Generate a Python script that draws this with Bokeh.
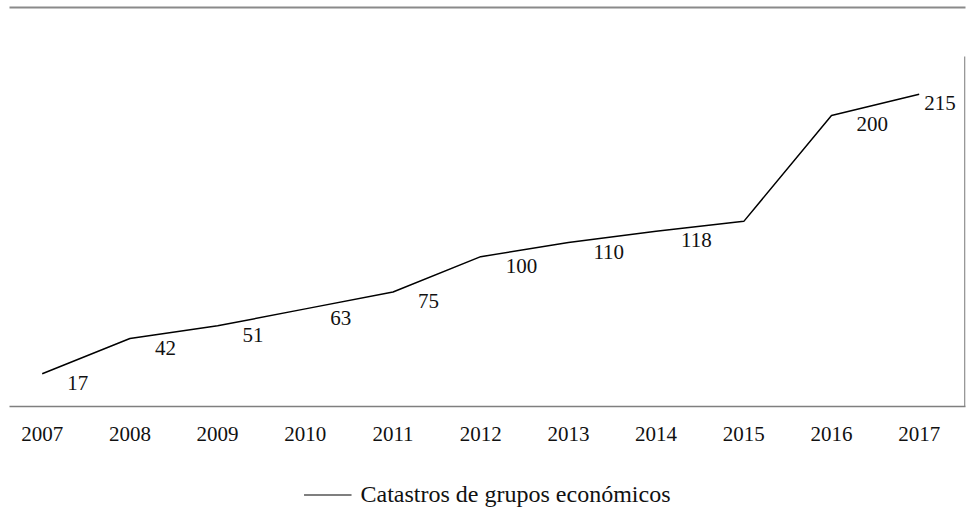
from bokeh.plotting import figure
from bokeh.layouts import column
from bokeh.models import (Range1d, FixedTicker, LinearAxis, Legend, LegendItem,
                          BoxAnnotation, ColumnDataSource)
from bokeh.core.properties import value
from bokeh.embed import file_html
from bokeh.resources import INLINE

# ---- data ----
years = [2007, 2008, 2009, 2010, 2011, 2012, 2013, 2014, 2015, 2016, 2017]
values = [17, 42, 51, 63, 75, 100, 110, 118, 125, 200, 215]
point_labels = ["17", "42", "51", "63", "75", "100", "110", "118", "", "200", "215"]
tick_labels = ["2007", "2008", "2009", "2010", "2011", "2012", "2013", "2014",
               "2015", "2016", "2017"]
series_name = "Catastros de grupos económicos"

# ---- layout / style ----
FONT = "Liberation Serif"
W = 979
H1, H2 = 470, 48
X0, X1 = 2006.627, 2017.528
Y0, Y1 = -6.16, 276.5
PX = (X1 - X0) / 956.0          # data units per screen pixel (x)
label_dx = [25] * (len(years) - 1) + [5]
label_dy = [9] * len(years)

p = figure(width=W, height=H1, output_backend="svg", toolbar_location=None,
           x_range=Range1d(X0, X1), y_range=Range1d(Y0, Y1),
           y_axis_location=None,
           min_border_left=9, min_border_right=14, min_border_top=7,
           min_border_bottom=H1 - 406)
p.outline_line_color = None
p.xgrid.visible = False
p.ygrid.visible = False
p.background_fill_color = "white"
p.border_fill_color = "white"

xa = p.xaxis[0]
xa.ticker = FixedTicker(ticks=years)
xa.major_label_overrides = {y: t for y, t in zip(years, tick_labels)}
xa.major_tick_line_color = None
xa.minor_tick_line_color = None
xa.major_tick_out = 0
xa.major_tick_in = 0
xa.axis_line_color = "#7f7f7f"
xa.axis_line_width = 1.5
xa.major_label_standoff = 20
xa.major_label_text_font = FONT
xa.major_label_text_font_size = "21px"
xa.major_label_text_color = "#111111"

# top rule as a bare axis line above the frame
ta = LinearAxis(ticker=FixedTicker(ticks=[]), axis_line_color="#8a8a8a",
                axis_line_width=2, major_tick_line_color=None,
                minor_tick_line_color=None, major_label_text_font_size="0px",
                major_tick_out=0, major_tick_in=0, major_label_standoff=0)
p.add_layout(ta, "above")

# right-hand border of the plot area (thin filled strip)
p.add_layout(BoxAnnotation(left=X1 - 1.3 * PX, right=X1, top=241.8, bottom=Y0,
                           fill_color="#7f7f7f", fill_alpha=1, line_color=None))

src = ColumnDataSource(dict(x=years, y=values, label=point_labels,
                            dx=label_dx, dy=label_dy))
r = p.line("x", "y", source=src, line_color="black", line_width=1.5)
p.text(x="x", y="y", text="label", source=src, x_offset="dx", y_offset="dy",
       text_align="left", text_baseline="middle", text_font=value(FONT),
       text_font_size="21px", text_color="#111111")

# legend strip (same series, drawn outside this strip's visible range)
q = figure(width=W, height=H2, output_backend="svg", toolbar_location=None,
           x_range=Range1d(0, 1), y_range=Range1d(0, 1),
           x_axis_location=None, y_axis_location=None,
           min_border=0)
q.outline_line_color = None
q.xgrid.visible = False
q.ygrid.visible = False
rl = q.line("x", "y", source=src, line_color="#555555", line_width=1.5)
legend = Legend(items=[LegendItem(label=series_name, renderers=[rl])],
                location="center", orientation="horizontal",
                glyph_width=48, glyph_height=20, label_standoff=9,
                padding=0, margin=0, border_line_color=None,
                background_fill_alpha=0, label_text_font=FONT,
                label_text_font_size="24px", label_text_color="#111111",
                label_height=20)
q.add_layout(legend, "center")

open("out.html", "w").write(file_html(column(p, q, spacing=0), INLINE))
